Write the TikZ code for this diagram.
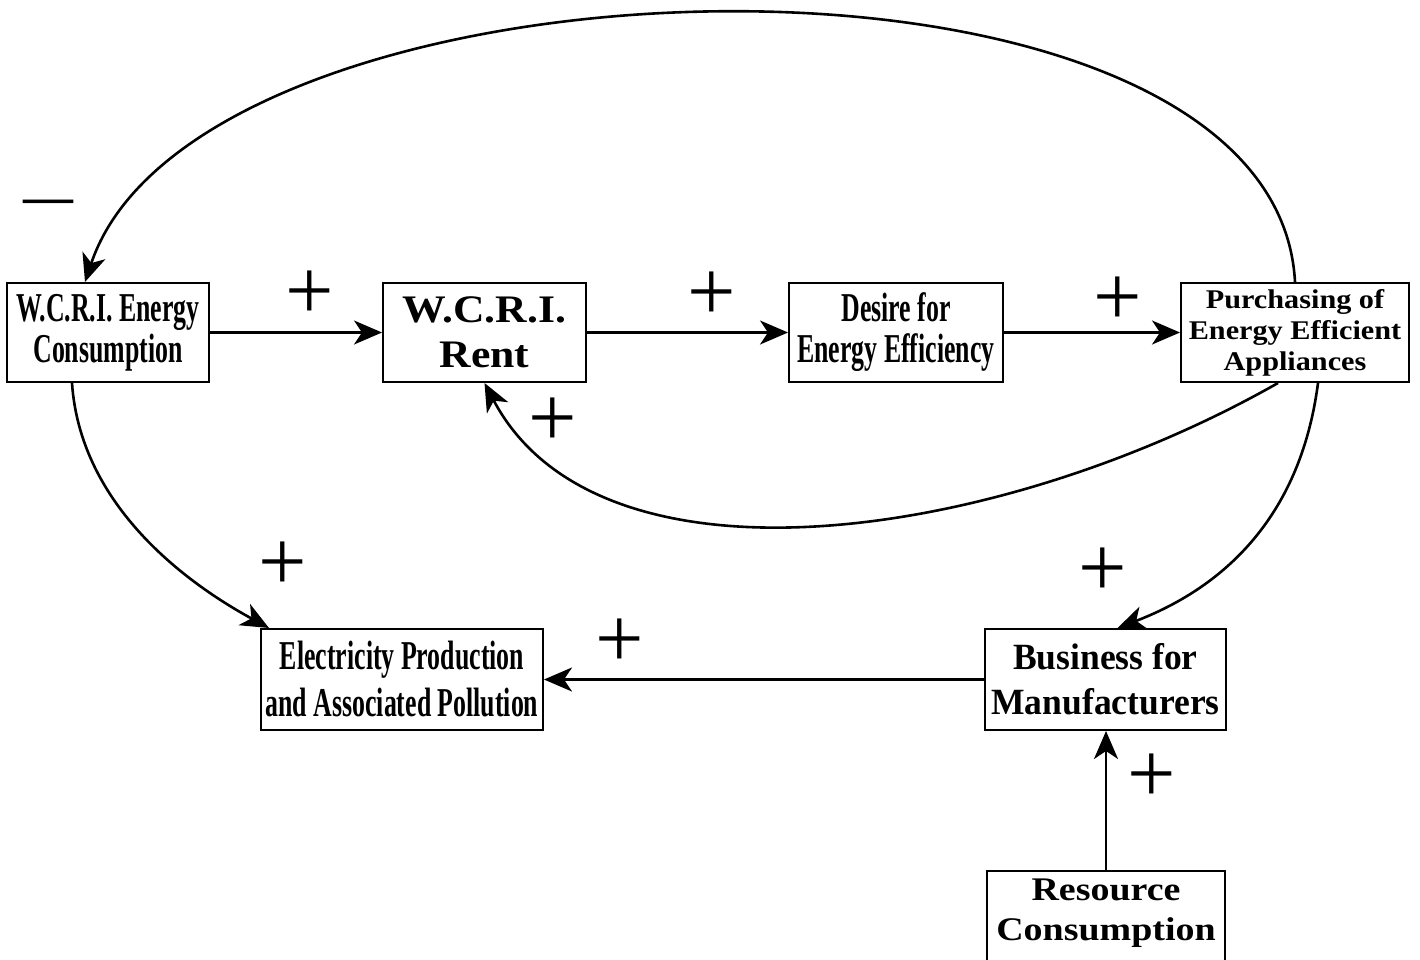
\documentclass[tikz,border=0pt]{standalone}
\usepackage{fontspec}
\setmainfont{Liberation Serif}
\newfontfamily\condfont[FakeStretch=0.63]{Liberation Serif}
\newfontfamily\normfont[FakeStretch=0.96]{Liberation Serif}
\newfontfamily\widefont[FakeStretch=1.12]{Liberation Serif}
\newfontfamily\rcfont[FakeStretch=1.15]{Liberation Serif}
\usetikzlibrary{arrows.meta}
\begin{document}
\begin{tikzpicture}[x=1pt,y=-1pt,
  box/.style={draw, line width=2pt, inner sep=0pt, align=center, fill=white},
  conn/.style={line width=2.6pt, -{Stealth[length=28pt,width=24pt,inset=8pt]}},
  sign/.style={font=\fontsize{86}{86}\selectfont, inner sep=0pt},
  minussign/.style={font=\bfseries\fontsize{50}{50}\selectfont, inner sep=0pt}]
\clip (0,0) rectangle (1420,960);
\fill[white] (0,0) rectangle (1420,960);

\node[box, minimum width=202pt, minimum height=99pt,
  font=\condfont\bfseries\fontsize{41}{41}\selectfont] (E) at (108,332.5) {W.C.R.I. Energy\\Consumption};
\node[box, minimum width=203pt, minimum height=99pt,
  font=\widefont\bfseries\fontsize{39}{45}\selectfont] (R) at (484.5,332.5) {W.C.R.I.\\Rent};
\node[box, minimum width=214pt, minimum height=99pt,
  font=\condfont\bfseries\fontsize{41}{41}\selectfont] (D) at (896,332.5) {Desire for\\Energy Efficiency};
\node[box, minimum width=228pt, minimum height=99pt,
  font=\widefont\bfseries\fontsize{27}{31}\selectfont] (P) at (1295,332.5) {Purchasing of\\Energy Efficient\\Appliances};
\node[box, minimum width=282pt, minimum height=101pt,
  font=\condfont\bfseries\fontsize{41}{47}\selectfont] (EP) at (402,679.5) {Electricity Production\\and Associated Pollution};
\node[box, minimum width=241pt, minimum height=101pt,
  font=\normfont\bfseries\fontsize{37}{45}\selectfont] (B) at (1105.5,679.5) {Business for\\Manufacturers};
\node[box, minimum width=238pt, minimum height=130pt, anchor=north] (RC) at (1106,870) {};
\node[inner sep=0pt, align=center,
  font=\rcfont\bfseries\fontsize{33}{40}\selectfont] (RCt) at (1106,913) {Resource\\Consumption};

% connectors
\draw[conn] (E) -- (R);
\draw[conn] (R) -- (D);
\draw[conn] (D) -- (P);
\draw[conn] (B) -- (EP);
\draw[conn] (RC.north) -- (RC.north |- B.south);
\draw[conn] (P.north) .. controls +(-20,-373) and +(115,-343) .. ([xshift=-23pt]E.north);
\draw[conn] ([xshift=-17pt]P.south) .. controls +(-278,158) and +(115,218) .. (R.south);
\draw[conn] ([xshift=-36pt]E.south) .. controls +(8,118) and +(-90,-49) .. ([xshift=9pt]EP.north west);
\draw[conn] ([xshift=23pt]P.south) .. controls +(-18,138) and +(102,-39) .. ([xshift=12pt]B.north);

% polarity signs
\node[sign] (s1) at (310,295) {+};
\node[sign] (s2) at (712,296) {+};
\node[sign] (s3) at (1118,301) {+};
\node[sign] (s4) at (553,422) {+};
\node[sign] (s5) at (283,566) {+};
\node[sign] (s6) at (1103,572) {+};
\node[sign] (s7) at (620,643) {+};
\node[sign] (s8) at (1152,778) {+};
\node[minussign] (m1) at (48,207) {—};
\end{tikzpicture}
\end{document}
